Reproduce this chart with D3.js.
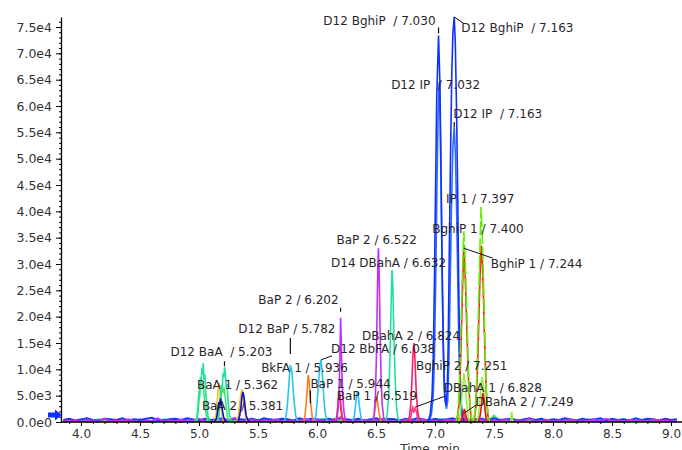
<!DOCTYPE html>
<html>
<head>
<meta charset="utf-8">
<script src="https://cdn.jsdelivr.net/npm/d3@7"></script>
<style>
  body { margin: 0; background: #fff; }
  svg { display: block; }
</style>
</head>
<body>
<div id="chart"></div>
<script>
// axis ticks
var yTicks = [0, 5000, 10000, 15000, 20000, 25000, 30000, 35000, 40000, 45000, 50000, 55000, 60000, 65000, 70000, 75000];
var yTickLabels = ["0.0e0", "5.0e3", "1.0e4", "1.5e4", "2.0e4", "2.5e4", "3.0e4", "3.5e4", "4.0e4", "4.5e4", "5.0e4", "5.5e4", "6.0e4", "6.5e4", "7.0e4", "7.5e4"];
var xTicks = [4.0, 4.5, 5.0, 5.5, 6.0, 6.5, 7.0, 7.5, 8.0, 8.5, 9.0];
var xTickLabels = ["4.0", "4.5", "5.0", "5.5", "6.0", "6.5", "7.0", "7.5", "8.0", "8.5", "9.0"];

// baseline noise, in hundreds of counts, sampled every 0.05 min from 3.85 min
var noiseBlue = [4,6,3,5,7,4,3,6,5,4,7,3,5,4,6,8,4,3,5,6,4,7,5,3,6,4,5,7,3,6,5,4,6,3,7,5,4,6,5,3,7,4,6,5,3,6,4,7,5,4,6,3,5,7,4,6,5,3,6,4,7,5,3,6,4,5,7,3,6,4,5,6,3,7,4,5,6,3,5,7,4,6,3,5,4,7,5,3,6,4,5,7,3,6,4,5,3,7,4,6,5,3,6,4,5];
var noiseMagenta = [2,1,3,0,4,2,1,6,2,3,1,5,2,0,3,2,7,1,3,2,4,1,3,6,2,1,4,2,3,8,1,2,4,1,3,2,5,1,2,3,1,6,2,4,1,3,2,9,1,3,2,4,1,2,6,3,1,2,4,3,1,5,2,3,1,4,2,7,1,3,2,4,1,3,2,5,1,3,2,6,1,2,4,1,3,2,5,1,3,2,4,1,6,2,3,1,4,2,3,1,5,2,3,1,2];
var noiseGreen = [1,3,2,4,1,2,5,1,3,2,6,1,2,4,3,1,2,5,3,1,4,2,1,3,5,2,1,4,2,3,1,6,2,3,1,4,2,5,1,3,2,4,1,3,6,2,4,1,3,2,5,1,4,2,3,1,5,2,4,1,3,2,4,1,5,3,2,6,1,3,2,4,1,12,2,3,1,4,2,3,1,5,2,3,1,4,2,3,1,5,2,4,1,3,2,5,1,3,2,4,1,3,2,4,1];
var noiseOrange = [0,2,1,3,0,1,4,1,2,0,3,1,2,5,1,0,2,3,1,2,0,4,1,2,3,0,1,2,4,1,0,3,1,2,5,0,1,3,2,0,4,1,2,3,1,0,6,1,2,0,3,1,2,4,1,0,2,3,1,5,0,2,1,3,0,2,4,1,3,0,2,1,3,0,4,1,2,0,3,1,2,4,0,1,3,2,0,1,4,1,2,0,3,1,2,0,4,1,2,3,0,1,2,3,1];

// peaks per trace: [time (min), intensity]
var yellowPeaks = [
  [[5.13,0],[5.145,1500],[5.155,4000],[5.163,6500],[5.17,7400],[5.177,6000],[5.185,3500],[5.195,1500],[5.21,0]],
  [[5.32,0],[5.335,1500],[5.347,3800],[5.356,5500],[5.364,6200],[5.372,5200],[5.382,3000],[5.395,1000],[5.41,0]]
];
var darkBluePeaks = [
  [[5.13,0],[5.15,800],[5.16,2500],[5.168,3800],[5.175,3200],[5.182,4500],[5.19,3600],[5.2,2000],[5.21,800],[5.225,0]],
  [[5.33,0],[5.345,1200],[5.356,3000],[5.364,4800],[5.372,5700],[5.38,5000],[5.39,3000],[5.4,1200],[5.415,300],[5.43,0]]
];
var greenPeaks = [
  [[4.98,0],[4.995,2500],[5.005,5500],[5.015,7800],[5.025,6500],[5.035,7200],[5.048,4000],[5.06,1500],[5.075,0]],
  [[5.16,0],[5.175,2500],[5.188,5000],[5.198,6800],[5.206,5800],[5.215,6200],[5.228,3500],[5.242,1000],[5.255,0]]
];
var turquoisePeaks = [
  [[4.96,0],[4.98,600],[4.99,2500],[5.0,6000],[5.005,4500],[5.012,8500],[5.018,7000],[5.024,10200],[5.03,9000],[5.036,11200],[5.042,8000],[5.05,9000],[5.058,5500],[5.066,3500],[5.075,1200],[5.09,200],[5.1,0]],
  [[5.15,0],[5.165,800],[5.178,3500],[5.19,7000],[5.197,6000],[5.203,9200],[5.21,8500],[5.216,10400],[5.222,9600],[5.23,6500],[5.238,7200],[5.248,3500],[5.26,1200],[5.275,0]],
  [[6.58,0],[6.595,1500],[6.608,5000],[6.618,12000],[6.624,18000],[6.63,24000],[6.636,28900],[6.642,26500],[6.648,20000],[6.655,14000],[6.662,8500],[6.672,3500],[6.685,800],[6.7,0]]
];
var cyanPeaks = [
  [[5.72,0],[5.735,800],[5.748,3000],[5.758,6000],[5.766,8500],[5.774,10800],[5.782,10200],[5.79,9000],[5.798,6000],[5.808,3500],[5.82,1200],[5.835,0]],
  [[5.975,0],[5.99,1200],[6.0,3500],[6.01,6500],[6.018,9000],[6.026,11000],[6.034,11800],[6.042,10000],[6.05,7500],[6.058,4500],[6.068,2000],[6.08,500],[6.095,0]],
  [[6.3,0],[6.315,1000],[6.325,2800],[6.335,4800],[6.343,5700],[6.35,5000],[6.358,3200],[6.368,1500],[6.38,300],[6.39,0]]
];
var orangePeaks = [
  [[5.89,0],[5.9,1500],[5.91,4000],[5.918,6500],[5.925,8900],[5.932,8200],[5.94,5500],[5.95,2800],[5.96,900],[5.975,0]],
  [[6.155,0],[6.168,1200],[6.178,3500],[6.186,5000],[6.194,4200],[6.202,2200],[6.215,500],[6.23,0]],
  [[6.47,0],[6.482,900],[6.492,2500],[6.5,4000],[6.507,4800],[6.514,3800],[6.524,2000],[6.535,700],[6.55,0]]
];
var pinkPeaks = [
  [[6.16,0],[6.172,1500],[6.18,4000],[6.188,6000],[6.196,5000],[6.205,2500],[6.218,600],[6.23,0]],
  [[6.77,0],[6.785,1200],[6.795,3500],[6.803,7000],[6.81,11000],[6.816,14000],[6.822,15000],[6.828,13000],[6.835,9000],[6.843,5000],[6.853,2000],[6.865,500],[6.88,0]]
];
var pinkSmallPeaks = [
  [[6.785,0],[6.797,1200],[6.805,2400],[6.812,2800],[6.82,1800],[6.83,2500],[6.84,2200],[6.852,900],[6.865,0]],
  [[7.215,0],[7.228,900],[7.238,1900],[7.248,1400],[7.26,400],[7.27,0]]
];
var purplePeaks = [
  [[6.16,0],[6.172,1000],[6.182,3500],[6.19,8000],[6.196,14000],[6.2,19800],[6.205,16000],[6.21,10000],[6.218,5000],[6.228,2000],[6.24,500],[6.255,0]],
  [[6.47,0],[6.485,1500],[6.495,5000],[6.503,12000],[6.51,22000],[6.516,30000],[6.521,33000],[6.527,28000],[6.534,18000],[6.542,9000],[6.552,3500],[6.565,800],[6.58,0]]
];
var blueIPPeaks = [
  [[6.95,0],[6.97,1500],[6.985,5000],[6.995,12000],[7.005,25000],[7.015,42000],[7.026,58000],[7.035,64500],[7.044,57000],[7.053,42000],[7.062,26000],[7.072,12000],[7.083,4500],[7.097,2500],
   [7.108,4000],[7.118,12000],[7.128,25000],[7.139,40000],[7.151,52000],[7.163,56000],[7.174,50000],[7.185,38000],[7.195,24000],[7.205,12000],[7.217,4000],[7.232,800],[7.248,0]]
];
var blueBghiPPeaks = [
  [[6.94,0],[6.96,1500],[6.975,5000],[6.985,12000],[6.995,26000],[7.005,45000],[7.015,62000],[7.03,73400],[7.042,64000],[7.052,46000],[7.06,30000],[7.07,15000],[7.08,6000],[7.092,3200],
   [7.104,6000],[7.112,15000],[7.12,30000],[7.13,48000],[7.142,66000],[7.152,74000],[7.163,76900],[7.172,72000],[7.182,60000],[7.192,44000],[7.2,28000],[7.208,14000],[7.218,5000],[7.23,1500],[7.245,0]]
];
var redPeaks = [
  [[7.185,0],[7.2,2500],[7.21,6500],[7.218,12500],[7.226,19000],[7.234,26000],[7.244,33000],[7.252,30000],[7.26,25000],[7.268,19000],[7.277,12500],[7.287,6500],[7.298,2500],[7.31,0]],
  [[7.33,0],[7.345,2500],[7.355,7000],[7.364,13000],[7.373,21000],[7.382,28000],[7.392,33500],[7.4,31000],[7.408,26000],[7.416,19000],[7.425,12000],[7.435,5500],[7.447,1500],[7.46,0]]
];
var limePeaks = [
  [[7.18,0],[7.195,2000],[7.205,6000],[7.213,12000],[7.22,18000],[7.228,25000],[7.236,31000],[7.244,36200],[7.252,33000],[7.26,28000],[7.268,22000],[7.276,16000],[7.284,9000],[7.294,4000],[7.305,1200],[7.32,0]],
  [[7.325,0],[7.34,2000],[7.35,6000],[7.358,12000],[7.366,19000],[7.374,27000],[7.382,34000],[7.39,40800],[7.398,37000],[7.406,31000],[7.414,24000],[7.422,16000],[7.43,9000],[7.44,3500],[7.452,1000],[7.465,0]]
];
var limeSmallPeaks = [
  [[7.2,0],[7.215,1500],[7.225,4000],[7.235,7000],[7.245,9300],[7.255,7500],[7.265,4500],[7.278,1500],[7.29,0]],
  [[7.355,0],[7.37,1500],[7.38,4000],[7.39,6800],[7.4,8500],[7.41,7000],[7.42,4000],[7.432,1200],[7.445,0]],
  [[7.64,0],[7.65,1900],[7.66,0]]
];
var redSmallPeaks = [
  [[7.225,0],[7.238,1500],[7.25,2500],[7.262,1200],[7.275,0]],
  [[7.37,0],[7.385,1500],[7.395,3500],[7.405,5500],[7.415,4200],[7.425,2000],[7.44,0]]
];

// peak annotations
var annoText = ["D12 BghiP  / 7.030", "D12 BghiP  / 7.163", "D12 IP  / 7.032", "D12 IP  / 7.163",
  "IP 1 / 7.397", "BghiP 1 / 7.400", "BghiP 1 / 7.244", "BaP 2 / 6.522", "D14 DBahA / 6.632",
  "BaP 2 / 6.202", "D12 BaP / 5.782", "DBahA 2 / 6.824", "D12 BbFA / 6.038", "D12 BaA  / 5.203",
  "BkFA 1 / 5.936", "BaA 1 / 5.362", "BaP 1 / 5.944", "BaA 2 / 5.381", "BaP 1 / 6.519",
  "BghiP 2 / 7.251", "DBahA 1 / 6.828", "DBahA 2 / 7.249"];
var annoTime = [7.03, 7.163, 7.035, 7.163, 7.39, 7.392, 7.244, 6.521, 6.636, 6.2, 5.774, 6.822, 6.034, 5.216,
  5.925, 5.364, 5.944, 5.372, 6.507, 7.245, 6.812, 7.25];
var annoHeight = [73400, 76900, 64500, 56000, 40800, 33500, 33000, 33000, 28900, 19800, 10800, 15000, 11800, 10400,
  8900, 6200, 6000, 5700, 4800, 9300, 2800, 2500];

// label placement relative to the peak apex (pixels)
var annoLayout = [
  { anchor: "end", dx: -3, dy: -15, tick: [-8, -2] },
  { anchor: "start", dx: 7, dy: 11, lead: [0, 0, 9, 6] },
  { anchor: "start", dx: -48, dy: 2 },
  { anchor: "start", dx: -1, dy: -13, tick: [-5, 0] },
  { anchor: "start", dx: -35, dy: -8 },
  { anchor: "start", dx: -49, dy: -17 },
  { anchor: "start", dx: 27, dy: 16, lead: [0, 0, 29, 10] },
  { anchor: "start", dx: -42, dy: -8 },
  { anchor: "start", dx: -61, dy: -7 },
  { anchor: "end", dx: -2, dy: -18, tick: [-10, -6] },
  { anchor: "start", dx: -52, dy: -36, tick: [-27, -11] },
  { anchor: "start", dx: -52, dy: -7 },
  { anchor: "start", dx: 10, dy: -11, lead: [0, 0, 11, -4] },
  { anchor: "start", dx: -54, dy: -15, tick: [-6, -1] },
  { anchor: "start", dx: -47, dy: -7 },
  { anchor: "start", dx: -45, dy: -5 },
  { anchor: "start", dx: 0, dy: -7, tick: [0, 13] },
  { anchor: "start", dx: -41, dy: 14 },
  { anchor: "start", dx: -40, dy: -1 },
  { anchor: "start", dx: -48, dy: -7 },
  { anchor: "start", dx: 31, dy: -19, lead: [2, 0, 32, -11] },
  { anchor: "start", dx: 11, dy: -7, lead: [0, 4, 12, -4] }
];

var width = 682, height = 450;

var svg = d3.select("#chart")
  .append("svg")
  .attr("width", width)
  .attr("height", height);

var x = d3.scaleLinear().domain([4.0, 9.0]).range([81, 671]);
var y = d3.scaleLinear().domain([0, 76900]).range([422, 17]);

var line = d3.line()
  .x(function (d) { return x(d[0]); })
  .y(function (d) { return y(d[1]); });

var plot = svg.append("g");

// baseline noise traces
function noiseTrace(vals) {
  return vals.map(function (v, i) { return [3.85 + i * 0.05, v * 100]; });
}
[[noiseOrange, "#ff7b1c"], [noiseGreen, "#3ee86a"], [noiseBlue, "#1238ff"], [noiseMagenta, "#c32ff5"]]
  .forEach(function (n) {
    plot.append("path")
      .attr("d", line(noiseTrace(n[0])))
      .attr("fill", "none")
      .attr("stroke", n[1])
      .attr("stroke-width", 2);
  });

var traces = [
  { peaks: yellowPeaks, color: "#f2c21a" },
  { peaks: greenPeaks, color: "#3ee86a" },
  { peaks: turquoisePeaks, color: "#20e39a" },
  { peaks: darkBluePeaks, color: "#0b0bd6" },
  { peaks: cyanPeaks, color: "#2ac4f2" },
  { peaks: orangePeaks, color: "#ff7b1c" },
  { peaks: pinkPeaks, color: "#ff1d66" },
  { peaks: purplePeaks, color: "#c32ff5" },
  { peaks: pinkSmallPeaks, color: "#ff3a8a" },
  { peaks: blueIPPeaks, color: "#2b6cff" },
  { peaks: blueBghiPPeaks, color: "#1030ff" },
  { peaks: redPeaks, color: "#ff1a1a" },
  { peaks: limePeaks, color: "#62ee00", dash: "14,3" },
  { peaks: limeSmallPeaks, color: "#8cf53a" },
  { peaks: redSmallPeaks, color: "#e8141e" }
];

traces.forEach(function (tr) {
  plot.selectAll(null)
    .data(tr.peaks)
    .enter()
    .append("path")
    .attr("d", line)
    .attr("fill", "none")
    .attr("stroke", tr.color)
    .attr("stroke-width", 1.6)
    .attr("stroke-dasharray", tr.dash || null);
});

// axes
var yAxis = svg.append("g")
  .attr("transform", "translate(61,0)")
  .call(d3.axisLeft(y).tickValues(yTicks).tickSize(5).tickSizeOuter(0)
    .tickFormat(function (d, i) { return yTickLabels[i]; }));
svg.append("g")
  .attr("transform", "translate(61,0)")
  .call(d3.axisLeft(y).tickValues(d3.range(0, 76001, 1000)).tickSize(2).tickSizeOuter(0).tickFormat(""))
  .select(".domain").remove();

var xAxis = svg.append("g")
  .attr("transform", "translate(0,422)")
  .call(d3.axisBottom(x).tickValues(xTicks).tickSize(4).tickSizeOuter(0)
    .tickFormat(function (d, i) { return xTickLabels[i]; }));
svg.append("g")
  .attr("transform", "translate(0,422)")
  .call(d3.axisBottom(x).tickValues(d3.range(3.9, 9.05, 0.1)).tickSize(2).tickSizeOuter(0).tickFormat(""))
  .select(".domain").remove();
xAxis.select(".domain").attr("d", "M61,0H682");

svg.selectAll(".domain").attr("stroke", "#000").attr("stroke-width", 1.3);
svg.selectAll(".tick line").attr("stroke", "#000");
svg.selectAll(".tick text")
  .attr("font-family", "DejaVu Sans, sans-serif")
  .attr("font-size", "12px")
  .attr("fill", "#333");
yAxis.selectAll(".tick text").attr("x", -9).attr("font-size", "12.5px");
xAxis.selectAll(".tick text").attr("y", 7);

svg.append("text")
  .attr("x", 430)
  .attr("y", 453)
  .attr("text-anchor", "middle")
  .attr("font-family", "DejaVu Sans, sans-serif")
  .attr("font-size", "12px")
  .attr("fill", "#333")
  .text("Time, min");

// blue arrow marker on the y axis
svg.append("path")
  .attr("d", "M48,412.5 L55,412.5 L55,409.5 L62,415 L55,420.5 L55,417.5 L48,417.5 Z")
  .attr("fill", "#1030ff");

// annotations
var annos = svg.append("g");
annoText.forEach(function (t, i) {
  var px = x(annoTime[i]), py = y(annoHeight[i]), lay = annoLayout[i];
  if (lay.tick) {
    annos.append("line")
      .attr("x1", px).attr("x2", px)
      .attr("y1", py + lay.tick[0]).attr("y2", py + lay.tick[1])
      .attr("stroke", "#111").attr("stroke-width", 1.2);
  }
  if (lay.lead) {
    annos.append("line")
      .attr("x1", px + lay.lead[0]).attr("y1", py + lay.lead[1])
      .attr("x2", px + lay.lead[2]).attr("y2", py + lay.lead[3])
      .attr("stroke", "#111").attr("stroke-width", 1);
  }
  annos.append("text")
    .attr("x", px + lay.dx)
    .attr("y", py + lay.dy)
    .attr("dy", "0.35em")
    .attr("text-anchor", lay.anchor)
    .attr("font-family", "DejaVu Sans, sans-serif")
    .attr("font-size", "12px")
    .attr("fill", "#2b1f2b")
    .style("white-space", "pre")
    .text(t);
});
</script>
</body>
</html>
